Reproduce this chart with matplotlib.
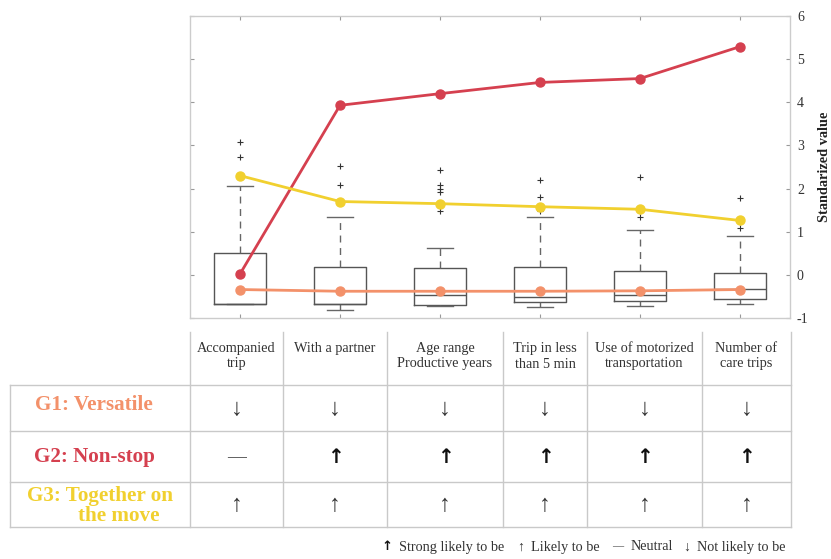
import matplotlib.pyplot as plt

plt.rcParams['font.family'] = ['Liberation Serif', 'DejaVu Serif']
plt.rcParams['axes.unicode_minus'] = False

# variables (columns of the table / x positions of the boxes)
categories = ['Accompanied\ntrip', 'With a partner', 'Age range\nProductive years',
              'Trip in less\nthan 5 min', 'Use of motorized\ntransportation', 'Number of\ncare trips']

# box statistics for the standardized values
q1 = [-0.67, -0.67, -0.70, -0.63, -0.61, -0.56]
med = [-0.67, -0.67, -0.47, -0.51, -0.46, -0.32]
q3 = [0.51, 0.19, 0.16, 0.19, 0.09, 0.05]
whislo = [-0.67, -0.81, -0.72, -0.74, -0.73, -0.67]
whishi = [2.05, 1.35, 0.63, 1.33, 1.05, 0.89]
fliers = [[3.07, 2.74], [2.53, 2.09], [2.44, 2.09, 1.98, 1.93, 1.47],
          [2.19, 1.81, 1.48], [2.26, 1.33], [1.78, 1.09]]

# group profiles
g1_versatile = [-0.34, -0.38, -0.38, -0.38, -0.37, -0.34]
g2_nonstop = [0.02, 3.93, 4.20, 4.46, 4.55, 5.29]
g3_together = [2.30, 1.70, 1.65, 1.58, 1.52, 1.26]

groups = ['G1: Versatile', 'G2: Non-stop', ('G3: Together on', 'the move')]
group_colors = ['#f3916a', '#d5404f', '#f1d02f']

# arrow codes per group and variable: 2 strong, 1 likely, 0 neutral, -1 not likely
g1_codes = [-1, -1, -1, -1, -1, -1]
g2_codes = [0, 2, 2, 2, 2, 2]
g3_codes = [1, 1, 1, 1, 1, 1]

fig = plt.figure(figsize=(8.31, 5.59), dpi=100)

# ---- upper chart ----
W, H = 831, 559
ax = fig.add_axes([190 / W, 1 - 318 / H, 600 / W, 302 / H])
pos = list(range(1, len(categories) + 1))
stats = []
for i in range(len(categories)):
    stats.append(dict(q1=q1[i], med=med[i], q3=q3[i], whislo=whislo[i],
                      whishi=whishi[i], fliers=fliers[i]))
ax.bxp(stats, positions=pos, widths=0.52, showfliers=True,
       boxprops=dict(color='#555555', linewidth=1.0),
       medianprops=dict(color='#555555', linewidth=1.0),
       whiskerprops=dict(color='#666666', linewidth=1.0, linestyle=(0, (5, 4))),
       capprops=dict(color='#666666', linewidth=1.0),
       flierprops=dict(marker='+', markersize=4, markeredgecolor='#333333',
                       markeredgewidth=0.8))

for vals, col in zip([g1_versatile, g2_nonstop, g3_together], group_colors):
    ax.plot(pos, vals, color=col, linewidth=2.0, marker='o', markersize=6.5, zorder=5)

ax.set_xlim(0.5, 6.5)
ax.set_ylim(-1, 6)
ax.set_xticks(pos)
ax.set_xticklabels([])
ax.yaxis.tick_right()
ax.yaxis.set_label_position('right')
ax.tick_params(axis='both', direction='in', length=3, color='#999999',
               top=True, bottom=True, left=True, right=True, labelsize=10,
               labelcolor='#333333', pad=5)
for s in ax.spines.values():
    s.set_color('#cccccc')
    s.set_linewidth(1.0)
ax.set_ylabel('Standarized value', fontsize=10.3, fontweight='bold', labelpad=7,
              color='#222222')

# ---- table below ----
tab = fig.add_axes([0, 0, 1, 1], zorder=-1)
tab.set_xlim(0, W)
tab.set_ylim(H, 0)
tab.axis('off')

col_edges = [190, 283, 387, 503, 587, 702, 791]
row_edges = [385, 431, 482, 527]
line_kw = dict(color='#c9c9c9', linewidth=1.0)
for yv in row_edges:
    tab.plot([10, col_edges[-1]], [yv, yv], **line_kw)
for xv in col_edges:
    tab.plot([xv, xv], [332, row_edges[-1]], **line_kw)
tab.plot([10, 10], [row_edges[0], row_edges[-1]], **line_kw)

centers = [(a + b) / 2 for a, b in zip(col_edges[:-1], col_edges[1:])]
for cx, name in zip(centers, categories):
    tab.text(cx, 342, name, ha='center', va='top', fontsize=10.3,
             color='#333333', linespacing=1.25)

row_mid = [(a + b) / 2 for a, b in zip(row_edges[:-1], row_edges[1:])]
lab_kw = dict(va='center', fontsize=15.2, fontweight='bold')
tab.text(94, 405, groups[0], ha='center', color=group_colors[0], **lab_kw)
tab.text(94, 457, groups[1], ha='center', color=group_colors[1], **lab_kw)
tab.text(27, 496, groups[2][0], ha='left', color=group_colors[2], **lab_kw)
tab.text(78, 516, groups[2][1], ha='left', color=group_colors[2], **lab_kw)


def arrow(x, y, code, size=17):
    if code == 2:
        tab.text(x, y, '↑', ha='center', va='center', fontsize=size * 0.85,
                 fontweight='bold', family='DejaVu Sans', color='#111111')
    elif code == 1:
        tab.text(x, y, '↑', ha='center', va='center', fontsize=size, color='#333333')
    elif code == -1:
        tab.text(x, y, '↓', ha='center', va='center', fontsize=size, color='#333333')
    else:
        tab.text(x, y, '—', ha='center', va='center', fontsize=size * 0.8, color='#333333')


for rm, codes in zip(row_mid, [g1_codes, g2_codes, g3_codes]):
    for cx, c in zip(centers, codes):
        arrow(cx, rm + 1, c)

# key
ky = 547
kw = dict(ha='left', va='center', fontsize=10.3, color='#333333')
arrow(387, ky, 2, size=11)
tab.text(399, ky, 'Strong likely to be', **kw)
arrow(521, ky, 1, size=10)
tab.text(531, ky, 'Likely to be', **kw)
arrow(618, ky, 0, size=10)
tab.text(631, ky, 'Neutral', **kw)
arrow(687, ky, -1, size=10)
tab.text(697, ky, 'Not likely to be', **kw)

fig.savefig('out.png', dpi=100)
